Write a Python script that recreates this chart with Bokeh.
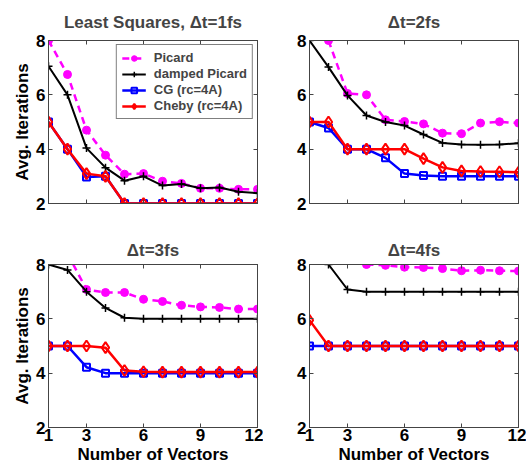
from bokeh.plotting import figure
from bokeh.layouts import gridplot
from bokeh.models import Range1d, FixedTicker, LinearAxis, Legend, LegendItem
from bokeh.embed import file_html
from bokeh.resources import INLINE

nan = float("nan")

# ---------------- data ----------------
vectors = [1, 2, 3, 4, 5, 6, 7, 8, 9, 10, 11, 12]
x_ticks = [1, 3, 6, 9, 12]
y_ticks = [2, 4, 6, 8]
titles = ["Least Squares, \u0394t=1fs", "\u0394t=2fs", "\u0394t=3fs", "\u0394t=4fs"]
series_names = ["Picard", "damped Picard", "CG (rc=4A)", "Cheby (rc=4A)"]

# dt = 1 fs
picard_1 = [8.0, 6.75, 4.7, 3.78, 3.08, 3.1, 2.82, 2.74, 2.56, 2.56, 2.52, 2.52]
damped_1 = [7.05, 6.0, 4.04, 3.32, 2.84, 3.0, 2.66, 2.72, 2.56, 2.59, 2.43, 2.38]
cg_1 = [5.0, 4.0, 2.98, 3.0, 2.0, 2.0, 2.0, 2.0, 2.0, 2.0, 2.0, 2.0]
cheby_1 = [5.0, 4.0, 3.1, 3.0, 2.0, 2.0, 2.0, 2.0, 2.0, 2.0, 2.0, 2.0]

# dt = 2 fs
picard_2 = [nan, 8.0, 6.05, 6.0, 5.08, 5.02, 4.93, 4.59, 4.57, 4.96, 5.01, 4.96]
damped_2 = [8.0, 7.02, 5.98, 5.24, 5.0, 4.87, 4.54, 4.23, 4.17, 4.16, 4.17, 4.22]
cg_2 = [5.0, 4.78, 4.0, 4.0, 3.68, 3.1, 3.03, 3.0, 3.0, 3.0, 3.0, 3.0]
cheby_2 = [5.0, 5.0, 4.0, 4.0, 4.0, 4.0, 3.65, 3.33, 3.2, 3.18, 3.17, 3.15]

# dt = 3 fs
picard_3 = [nan, 8.4, 7.08, 6.97, 6.97, 6.72, 6.64, 6.5, 6.44, 6.42, 6.36, 6.36]
damped_3 = [8.0, 7.8, 7.0, 6.4, 6.04, 6.0, 6.0, 6.0, 6.0, 6.0, 6.0, 6.0]
cg_3 = [5.0, 5.0, 4.22, 4.0, 4.0, 4.0, 4.0, 4.0, 4.0, 4.0, 4.0, 4.0]
cheby_3 = [5.0, 5.0, 5.0, 4.94, 4.1, 4.05, 4.04, 4.04, 4.04, 4.04, 4.04, 4.04]

# dt = 4 fs
picard_4 = [nan, nan, nan, 8.0, 7.97, 7.9, 7.89, 7.85, 7.77, 7.79, 7.77, 7.76]
damped_4 = [nan, 8.0, 7.08, 7.0, 7.0, 7.0, 7.0, 7.0, 7.0, 7.0, 7.0, 7.0]
cg_4 = [5.0, 5.0, 5.0, 5.0, 5.0, 5.0, 5.0, 5.0, 5.0, 5.0, 5.0, 5.0]
cheby_4 = [5.95, 5.0, 5.0, 5.0, 5.0, 5.0, 5.0, 5.0, 5.0, 5.0, 5.0, 5.0]

panels = [
    (picard_1, damped_1, cg_1, cheby_1),
    (picard_2, damped_2, cg_2, cheby_2),
    (picard_3, damped_3, cg_3, cheby_3),
    (picard_4, damped_4, cg_4, cheby_4),
]

FONT = "Liberation Sans"
AX = "#444444"


def style_axis(ax, show_labels, label=None):
    ax.major_tick_in = 4
    ax.major_tick_out = 0
    ax.minor_tick_line_color = None
    ax.axis_line_color = AX
    ax.major_tick_line_color = AX
    ax.major_label_text_font = FONT
    ax.major_label_text_font_style = "bold"
    ax.major_label_text_font_size = "17px"
    if show_labels:
        ax.major_label_text_color = "black"
    else:
        ax.major_label_text_color = None
        ax.major_label_standoff = 0
    if label:
        ax.axis_label = label
        ax.axis_label_text_font = FONT
        ax.axis_label_text_font_style = "bold"
        ax.axis_label_text_font_size = "17px"
        ax.axis_label_text_color = "black"


def make_panel(i):
    top = i < 2
    left = i % 2 == 0
    p = figure(
        width=263, height=233,
        x_range=Range1d(1, 12), y_range=Range1d(2, 8),
        output_backend="svg", toolbar_location=None,
        min_border_left=48 if left else 46,
        min_border_right=6 if left else 8,
        min_border_top=40 if top else 30,
        min_border_bottom=30 if top else 39,
    )
    p.title.text = titles[i]
    p.title.align = "center"
    p.title.text_font = FONT
    p.title.text_font_size = "17px"
    p.title.text_font_style = "bold"
    p.title.standoff = 17 if top else 10
    p.grid.visible = False
    p.outline_line_color = AX
    p.outline_line_width = 1
    p.background_fill_color = "white"
    p.border_fill_color = "white"

    p.xaxis.ticker = FixedTicker(ticks=x_ticks)
    p.yaxis.ticker = FixedTicker(ticks=y_ticks)
    style_axis(p.xaxis[0], not top, None if top else "Number of Vectors")
    p.xaxis.major_label_standoff = 1 if not top else 0
    p.xaxis.axis_label_standoff = 1
    style_axis(p.yaxis[0], True, "Avg. Iterations" if left else None)
    p.yaxis.major_label_standoff = 3
    p.yaxis.axis_label_standoff = 1

    # mirrored ticks on top and right (box style)
    ra = LinearAxis(ticker=FixedTicker(ticks=y_ticks))
    style_axis(ra, False)
    p.add_layout(ra, "right")
    ta = LinearAxis(ticker=FixedTicker(ticks=x_ticks))
    style_axis(ta, False)
    p.add_layout(ta, "above")

    pic, dmp, cg, chb = panels[i]
    r_pl = p.line(vectors, pic, line_color="#ff00ff", line_width=2.5, line_dash="7 5")
    r_pm = p.scatter(vectors, pic, marker="circle", size=8, fill_color="#ff00ff", line_color="#ff00ff")
    r_dl = p.line(vectors, dmp, line_color="black", line_width=2)
    r_dm = p.scatter(vectors, dmp, marker="cross", size=8, line_color="black", line_width=1.5)
    r_cl = p.line(vectors, cg, line_color="#0000ff", line_width=2.5)
    r_cm = p.scatter(vectors, cg, marker="square", size=7, fill_color="white", fill_alpha=0.0,
                     line_color="#0000ff", line_width=2)
    r_hl = p.line(vectors, chb, line_color="#ff0000", line_width=2.5)
    r_hm = p.scatter(vectors, chb, marker="diamond", size=11, fill_color="white", fill_alpha=0.0,
                     line_color="#ff0000", line_width=2)

    if i == 0:
        leg = Legend(items=[
            LegendItem(label=series_names[0], renderers=[r_pl, r_pm]),
            LegendItem(label=series_names[1], renderers=[r_dl, r_dm]),
            LegendItem(label=series_names[2], renderers=[r_cl, r_cm]),
            LegendItem(label=series_names[3], renderers=[r_hl, r_hm]),
        ], location="top_right")
        leg.margin = 4
        leg.padding = 5
        leg.spacing = 1
        leg.glyph_width = 24
        leg.glyph_height = 14
        leg.label_height = 14
        leg.label_standoff = 8
        leg.label_text_font = FONT
        leg.label_text_font_size = "13px"
        leg.label_text_font_style = "bold"
        leg.border_line_color = "black"
        leg.border_line_width = 1
        leg.background_fill_alpha = 1.0
        p.add_layout(leg, "center")
    return p


figs = [make_panel(i) for i in range(4)]
grid = gridplot([[figs[0], figs[1]], [figs[2], figs[3]]], toolbar_location=None)

open("out.html", "w").write(file_html(grid, INLINE))
